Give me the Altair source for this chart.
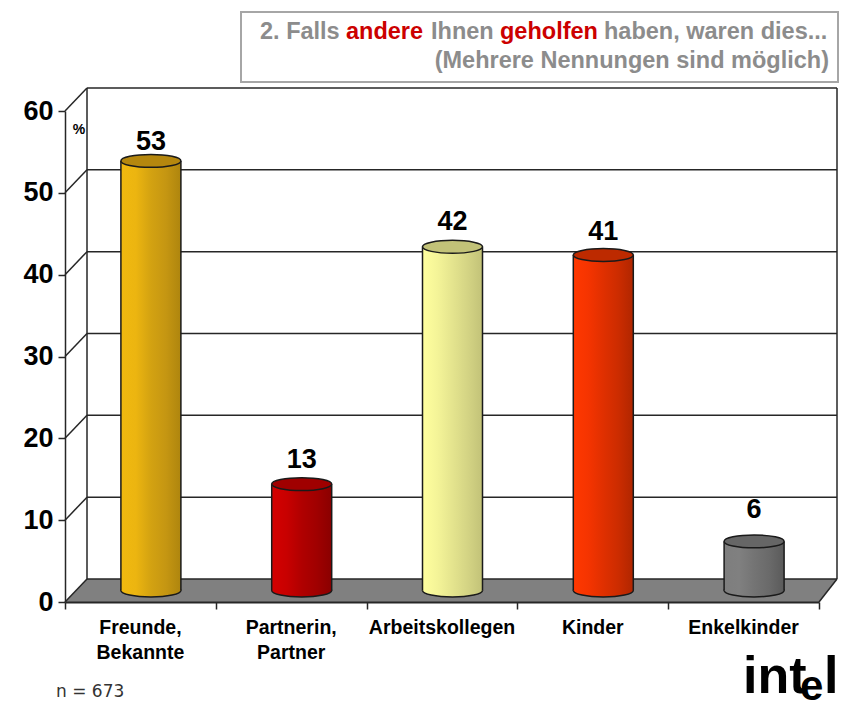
import altair as alt
import pandas as pd

categories = ["Freunde,\nBekannte", "Partnerin,\nPartner", "Arbeitskollegen", "Kinder", "Enkelkinder"]
values = [52.5, 13, 42, 41, 6]
value_labels = ["53", "13", "42", "41", "6"]
y_ticks = [0, 10, 20, 30, 40, 50, 60]
x_ticks = [0, 1, 2, 3, 4, 5]

body_colors = [
    ["#F0B90F", "#ECB510", "#D3A211", "#C59612", "#AE850E"],
    ["#D40000", "#C80000", "#B00000", "#A00000", "#8A0000"],
    ["#FFFF9E", "#F4F498", "#E4E48E", "#D4D484", "#C2C278"],
    ["#FF3800", "#F53400", "#E03000", "#CC2C00", "#B02600"],
    ["#7E7E7E", "#808080", "#747474", "#6A6A6A", "#5A5A5A"],
]
top_colors = ["#B5870E", "#A00000", "#C2C278", "#BD2A00", "#666666"]
label_dy = [-19, -24, -25, -23, -31]
title_segments = [
    ("2. Falls", "#8C8C8C", 262),
    ("andere", "#CC0000", 348),
    ("Ihnen", "#8C8C8C", 433),
    ("geholfen", "#CC0000", 502),
    ("haben, waren dies...", "#8C8C8C", 606),
]

# plot frame on the page: value 0/60 at y 602/111, categories 0..5 at x 65..819
X0, Y0, PW, PH = 65, 111, 754, 491
UX, UY = PW / 5, PH / 60
DX, DY = 22 / UX, 23 / UY          # depth of the 3-D box in data units
DXR = 18 / UX                      # right wall stays inside the 831 px page box
BASE_X, BASE_Y = 10.5 / UX, 11.5 / UY  # cylinders stand mid-depth
HALF_W = 30 / UX

FONT = "Liberation Sans"
LINE = "#262626"
xs = alt.Scale(domain=[0, 5], nice=False, zero=False)
ys = alt.Scale(domain=[0, 60], nice=False, zero=False)
ELLIPSE = ("M-1 0 C-1 -.119 -.552 -.215 0 -.215 C.552 -.215 1 -.119 1 0 "
           "C1 .119 .552 .215 0 .215 C-.552 .215 -1 .119 -1 0Z")


def X(f="x", **k):
    return alt.X(f + ":Q", scale=xs, axis=None, **k)


def Y(f="y", **k):
    return alt.Y(f + ":Q", scale=ys, axis=None, **k)


# axes layer
axes = alt.Chart(pd.DataFrame({"x": [0, 5], "y": [0, 60]})).mark_point(opacity=0).encode(
    x=alt.X("x:Q", scale=xs, title=None, axis=alt.Axis(
        values=x_ticks, labels=False, grid=False, tickSize=7, tickWidth=1.5, domainWidth=2,
        tickColor=LINE, domainColor=LINE, zindex=1)),
    y=alt.Y("y:Q", scale=ys, title=None, axis=alt.Axis(
        values=y_ticks, grid=False, tickSize=7, tickWidth=1.5, domainWidth=1.5, tickColor=LINE,
        domainColor=LINE, labelFont=FONT, labelFontWeight="bold", labelFontSize=27,
        labelColor="#000000", labelPadding=5, zindex=1)),
)

# floor
floor_df = pd.DataFrame({"x": [0, DX, 5, 5 + DXR], "y": [0, DY, DY, DY], "y2": [0, 0, 0, DY]})
floor = alt.Chart(floor_df).mark_area(color="#808080", clip=False, interpolate="linear").encode(
    x=X(), y=Y(), y2="y2:Q")

# wall lines
segs = []
for t in y_ticks[1:]:
    segs.append((DX, t + DY, 5 + DXR, t + DY))
for t in y_ticks:
    segs.append((0, t, DX, t + DY))
segs += [(DX, DY, 5 + DXR, DY), (DX, DY, DX, 60 + DY), (5 + DXR, DY, 5 + DXR, 60 + DY), (5, 0, 5 + DXR, DY)]
segs_df = pd.DataFrame(segs, columns=["x", "y", "x2", "y2"])
wall = alt.Chart(segs_df).mark_rule(color=LINE, strokeWidth=1.5).encode(
    x=X(), x2="x2:Q", y=Y(), y2="y2:Q")

layers = [axes, floor, wall]

# cylinders
for i, (v, lab, cols, top, ldy) in enumerate(zip(values, value_labels, body_colors, top_colors, label_dy)):
    cx = i + 0.5 + BASE_X
    d = pd.DataFrame({"xc": [cx], "x1": [cx - HALF_W], "x2": [cx + HALF_W],
                      "top": [v + BASE_Y], "base": [BASE_Y], "lab": [lab]})
    grad = alt.LinearGradient(
        gradient="linear", x1=0, x2=1, y1=0, y2=0,
        stops=[alt.GradientStop(offset=j / (len(cols) - 1), color=c) for j, c in enumerate(cols)])
    c = alt.Chart(d)
    layers += [
        c.mark_point(shape=ELLIPSE, filled=True, fill=grad, size=3600, stroke="#1A1A1A",
                     strokeWidth=1.5, opacity=1, clip=False).encode(x=X("xc"), y=Y("base")),
        c.mark_rect(fill=grad, clip=False).encode(x=X("x1"), x2="x2:Q", y=Y("top"), y2="base:Q"),
        c.mark_rule(color="#1A1A1A", strokeWidth=1.5).encode(x=X("x1"), y=Y("top"), y2="base:Q"),
        c.mark_rule(color="#1A1A1A", strokeWidth=1.5).encode(x=X("x2"), y=Y("top"), y2="base:Q"),
        c.mark_point(shape=ELLIPSE, filled=True, fill=top, size=3600, stroke="#1A1A1A",
                     strokeWidth=1.5, opacity=1, clip=False).encode(x=X("xc"), y=Y("top")),
        c.mark_text(font=FONT, fontWeight="bold", fontSize=27, color="#000000", dy=ldy,
                    baseline="middle", align="center").encode(
            x=X("xc"), y=Y("top"), text="lab:N"),
    ]

# category labels
cat_df = pd.DataFrame({"x": [i + 0.5 for i in range(5)], "t": categories})
layers.append(alt.Chart(cat_df).mark_text(
    font=FONT, fontWeight="bold", fontSize=19.5, color="#000000", lineBreak="\n", lineHeight=25,
    align="center", baseline="alphabetic").encode(x=X(), y=alt.value(634 - Y0), text="t:N"))

one = pd.DataFrame({"a": [0]})


def txt(s, x, y, size, color="#000000", weight="bold", align="left", font=FONT):
    return alt.Chart(one).mark_text(text=s, font=font, fontSize=size, fontWeight=weight, color=color,
                                    align=align, baseline="alphabetic").encode(
        x=alt.value(x - X0), y=alt.value(y - Y0))


# title box
layers.append(alt.Chart(one).mark_rect(fill="#FFFFFF", stroke="#A6A6A6", strokeWidth=2).encode(
    x=alt.value(241 - X0), x2=alt.value(838 - X0), y=alt.value(12 - Y0), y2=alt.value(82 - Y0)))
for s, col, x in title_segments:
    layers.append(txt(s, x - 2, 39, 23.5, col))
layers.append(txt("(Mehrere Nennungen sind möglich)", 829, 68, 23.5, "#8C8C8C", align="right"))

layers.append(txt("%", 79, 134, 14, "#000000", align="center"))
layers.append(txt("n = 673", 56, 697, 17, "#333333", weight="normal", font="DejaVu Sans"))

# logo wordmark
layers.append(txt("int", 743, 693, 52))
layers.append(txt("e", 800, 700, 42))
layers.append(txt("l", 824, 693, 52))

chart = alt.layer(*layers).resolve_axis(x="independent", y="independent").properties(
    width=PW, height=PH,
    autosize=alt.AutoSizeParams(type="none"),
    padding={"left": X0 - 8, "top": Y0 - 8, "right": 839 - X0 - PW, "bottom": 703 - Y0 - PH},
    background="#FFFFFF",
).configure_view(stroke=None)

chart.save("out.html", embed_options={"renderer": "svg", "actions": False})
